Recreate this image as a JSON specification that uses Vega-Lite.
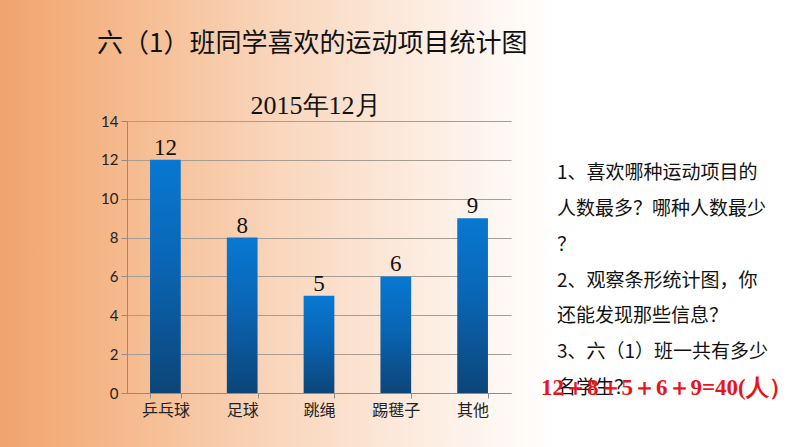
{
  "$schema": "https://vega.github.io/schema/vega-lite/v6.json",
  "width": 794,
  "height": 447,
  "autosize": {"type": "none"},
  "padding": 0,
  "background": "#ffffff",
  "view": {
    "stroke": null,
    "fill": {
      "gradient": "linear",
      "x1": 0, "y1": 0, "x2": 1, "y2": 0,
      "stops": [
        {"offset": 0, "color": "#f1a46d"},
        {"offset": 0.15, "color": "#f5b98c"},
        {"offset": 0.35, "color": "#f9d6bc"},
        {"offset": 0.55, "color": "#fdeee4"},
        {"offset": 0.7, "color": "#ffffff"}
      ]
    }
  },
  "title": {
    "text": "六（1）班同学喜欢的运动项目统计图",
    "anchor": "start",
    "frame": "group",
    "dx": 97,
    "offset": -57,
    "font": "Noto Sans CJK SC",
    "fontSize": 26,
    "fontWeight": "normal",
    "color": "#111111"
  },
  "layer": [
    {
      "data": {
        "values": [
          {"sport": "乒乓球", "count": 12},
          {"sport": "足球", "count": 8},
          {"sport": "跳绳", "count": 5},
          {"sport": "踢毽子", "count": 6},
          {"sport": "其他", "count": 9}
        ]
      },
      "encoding": {
        "x": {
          "field": "sport",
          "type": "nominal",
          "sort": null,
          "scale": {"type": "band", "range": [127, 511], "paddingInner": 0.6, "paddingOuter": 0.3},
          "axis": {
            "orient": "bottom",
            "offset": -54,
            "title": "2015年12月",
            "titleFont": "Liberation Serif",
            "titleFontSize": 26,
            "titleFontWeight": "normal",
            "titleColor": "#111111",
            "titleX": 315,
            "titleY": -280,
            "titleBaseline": "alphabetic",
            "titleAnchor": "middle",
            "domainColor": "#8c8c8c",
            "tickColor": "#8c8c8c",
            "tickSize": 5,
            "tickBand": "extent",
            "labelAngle": 0,
            "labelFont": "Noto Sans CJK SC",
            "labelFontSize": 16,
            "labelColor": "#222222",
            "labelPadding": 4,
            "grid": false
          }
        },
        "y": {
          "field": "count",
          "type": "quantitative",
          "scale": {"domain": [0, 14], "range": [393, 121], "nice": false},
          "axis": {
            "orient": "left",
            "offset": -127,
            "values": [0, 2, 4, 6, 8, 10, 12, 14],
            "title": null,
            "grid": true,
            "gridColor": "#a89d93",
            "domainColor": "#8c8c8c",
            "tickColor": "#8c8c8c",
            "tickSize": 6,
            "labelFont": "Lato",
            "labelFontSize": 15,
            "labelColor": "#222222",
            "labelPadding": 3
          }
        }
      },
      "layer": [
        {
          "mark": {
            "type": "bar",
            "color": {
              "gradient": "linear",
              "x1": 0, "y1": 0, "x2": 0, "y2": 1,
              "stops": [
                {"offset": 0, "color": "#0878d2"},
                {"offset": 0.45, "color": "#0a65b4"},
                {"offset": 1, "color": "#0c4578"}
              ]
            }
          }
        },
        {
          "mark": {
            "type": "text",
            "baseline": "alphabetic",
            "dy": -5,
            "font": "Liberation Serif",
            "fontSize": 23,
            "color": "#111111"
          },
          "encoding": {"text": {"field": "count", "type": "quantitative"}}
        }
      ]
    },
    {
      "layer": [
        {
          "data": {
            "values": [
              {"line": 1, "text": "1、喜欢哪种运动项目的"},
              {"line": 2, "text": "人数最多？哪种人数最少"},
              {"line": 3, "text": "？"},
              {"line": 4, "text": "2、观察条形统计图，你"},
              {"line": 5, "text": "还能发现那些信息？"},
              {"line": 6, "text": "3、六（1）班一共有多少"},
              {"line": 7, "text": "名学生？"}
            ]
          },
          "mark": {
            "type": "text",
            "align": "left",
            "baseline": "middle",
            "font": "Noto Sans CJK SC",
            "fontSize": 19,
            "color": "#111111"
          },
          "encoding": {
            "x": {"datum": 0, "type": "quantitative", "scale": {"domain": [0, 1], "range": [557, 794]}, "axis": null},
            "y": {"field": "line", "type": "ordinal", "scale": {"type": "point", "domain": [1, 2, 3, 4, 5, 6, 7], "range": [173, 388], "padding": 0}, "axis": null},
            "text": {"field": "text"}
          }
        },
        {
          "data": {"values": [{"line": 7, "text": "12＋8＋5＋6＋9=40(人）"}]},
          "mark": {
            "type": "text",
            "align": "left",
            "baseline": "middle",
            "dx": -16,
            "font": "Liberation Serif",
            "fontSize": 23,
            "fontWeight": "bold",
            "color": "#e8141b"
          },
          "encoding": {
            "x": {"datum": 0, "type": "quantitative"},
            "y": {"field": "line", "type": "ordinal"},
            "text": {"field": "text"}
          }
        }
      ]
    }
  ],
  "resolve": {"scale": {"x": "independent", "y": "independent"}}
}
